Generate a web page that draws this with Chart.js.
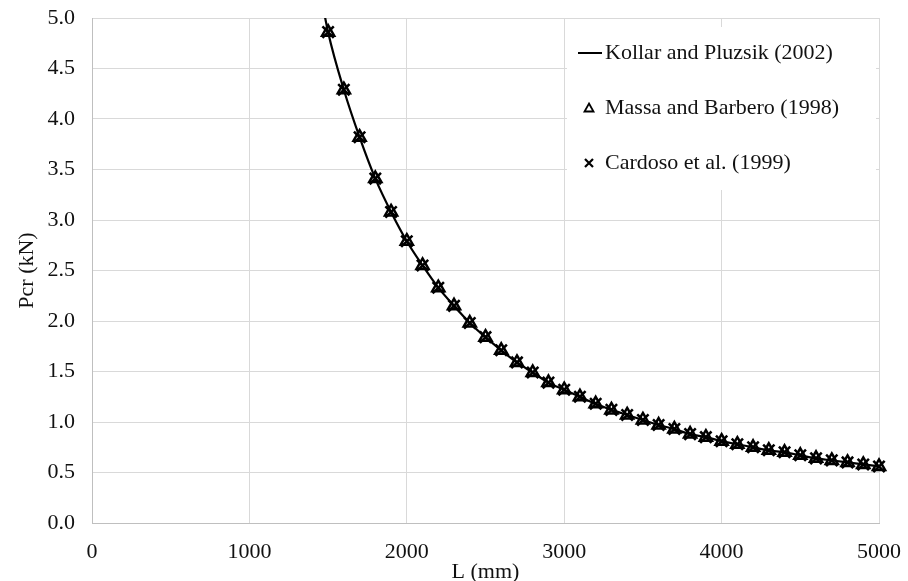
<!DOCTYPE html>
<html>
<head>
<meta charset="utf-8">
<title>Pcr vs L</title>
<script src="https://cdn.jsdelivr.net/npm/chart.js@4.4.1/dist/chart.umd.min.js"></script>
<style>
  html, body { margin: 0; padding: 0; background: #fff; }
  #wrap { width: 908px; height: 581px; }
</style>
</head>
<body>
<div id="wrap"><canvas id="chart" width="908" height="581"></canvas></div>
<script>
// lengths (mm) of the discrete results
const lengths = [1500, 1600, 1700, 1800, 1900, 2000, 2100, 2200, 2300, 2400,
  2500, 2600, 2700, 2800, 2900, 3000, 3100, 3200, 3300, 3400,
  3500, 3600, 3700, 3800, 3900, 4000, 4100, 4200, 4300, 4400,
  4500, 4600, 4700, 4800, 4900, 5000];

// Kollar and Pluzsik (2002) curve (starts above the top edge)
const kollarL = [1450].concat(lengths);
const kollarP = [5.26, 4.86, 4.29, 3.82, 3.41, 3.08, 2.79, 2.55, 2.33, 2.15, 1.98,
  1.84, 1.71, 1.59, 1.49, 1.39, 1.32, 1.25, 1.18, 1.12, 1.07,
  1.02, 0.97, 0.93, 0.88, 0.85, 0.81, 0.78, 0.75, 0.72, 0.70,
  0.67, 0.64, 0.62, 0.60, 0.58, 0.56];

// Massa and Barbero (1998)
const massaP = [4.86, 4.29, 3.82, 3.41, 3.08, 2.79, 2.55, 2.33, 2.15, 1.98,
  1.84, 1.71, 1.59, 1.49, 1.39, 1.32, 1.25, 1.18, 1.12, 1.07,
  1.02, 0.97, 0.93, 0.88, 0.85, 0.81, 0.78, 0.75, 0.72, 0.70,
  0.67, 0.64, 0.62, 0.60, 0.58, 0.56];

// Cardoso et al. (1999)
const cardosoP = [4.86, 4.29, 3.82, 3.41, 3.08, 2.79, 2.55, 2.33, 2.15, 1.98,
  1.84, 1.71, 1.59, 1.49, 1.39, 1.32, 1.25, 1.18, 1.12, 1.07,
  1.02, 0.97, 0.93, 0.88, 0.85, 0.81, 0.78, 0.75, 0.72, 0.70,
  0.67, 0.64, 0.62, 0.60, 0.58, 0.56];

const seriesNames = ["Kollar and Pluzsik (2002)", "Massa and Barbero (1998)", "Cardoso et al. (1999)"];
const xTicks = [0, 1000, 2000, 3000, 4000, 5000];
const yTicks = [0, 0.5, 1, 1.5, 2, 2.5, 3, 3.5, 4, 4.5, 5];

const FONT = "'Liberation Serif', 'Times New Roman', serif";
const TEXT = "#111";

// legend drawn as a box inside the plot, top right
const boxLegend = {
  id: "boxLegend",
  afterDraw(chart) {
    const ctx = chart.ctx,
      area = chart.chartArea,
      left = area.right - 312,
      top = area.top + 9,
      rows = [area.top + 35, area.top + 90, area.top + 145],
      mx = left + 22;
    ctx.save();
    ctx.fillStyle = "#fff";
    ctx.fillRect(left, top, area.right - 3 - left, 163);

    ctx.strokeStyle = "#000";
    ctx.lineWidth = 2;
    // line sample
    ctx.beginPath();
    ctx.moveTo(left + 11, rows[0]);
    ctx.lineTo(left + 35, rows[0]);
    ctx.stroke();
    // triangle
    ctx.lineWidth = 1.8;
    ctx.beginPath();
    ctx.moveTo(mx, rows[1] - 4.5);
    ctx.lineTo(mx + 4.5, rows[1] + 3.5);
    ctx.lineTo(mx - 4.5, rows[1] + 3.5);
    ctx.closePath();
    ctx.stroke();
    // cross
    ctx.lineWidth = 2.2;
    ctx.beginPath();
    ctx.moveTo(mx - 4, rows[2] - 4);
    ctx.lineTo(mx + 4, rows[2] + 4);
    ctx.moveTo(mx + 4, rows[2] - 4);
    ctx.lineTo(mx - 4, rows[2] + 4);
    ctx.stroke();

    ctx.fillStyle = TEXT;
    ctx.font = "22px " + FONT;
    ctx.textBaseline = "middle";
    ctx.textAlign = "left";
    seriesNames.forEach((name, i) => ctx.fillText(name, left + 38, rows[i]));
    ctx.restore();
  },
};

// drop the label overhang padding so layout.padding alone places the plot
const noOverhang = (s) => {
  s.paddingTop = 0;
  s.paddingBottom = 0;
  s.paddingLeft = 0;
  s.paddingRight = 0;
};

document.addEventListener("DOMContentLoaded", () => {
  const toPoints = (xs, ys) => xs.map((x, i) => ({ x: x, y: ys[i] })),
    chartData = {
      datasets: [
        {
          label: seriesNames[0],
          data: toPoints(kollarL, kollarP),
          showLine: true,
          borderColor: "#000",
          borderWidth: 2.2,
          pointRadius: 0,
          cubicInterpolationMode: "monotone",
          clip: 0,
          order: 3,
        },
        {
          label: seriesNames[1],
          data: toPoints(lengths, massaP),
          pointStyle: "triangle",
          pointRadius: 7,
          borderColor: "#000",
          backgroundColor: "rgba(0,0,0,0)",
          borderWidth: 2.5,
          clip: false,
          order: 2,
        },
        {
          label: seriesNames[2],
          data: toPoints(lengths, cardosoP),
          pointStyle: "crossRot",
          pointRadius: 8,
          borderColor: "#000",
          borderWidth: 2.5,
          clip: false,
          order: 1,
        },
      ],
    },
    chartConfig = {
      type: "scatter",
      data: chartData,
      plugins: [boxLegend],
      options: {
        responsive: false,
        animation: false,
        events: [],
        layout: { padding: { top: 18, right: 29, left: 0, bottom: 0 } },
        plugins: { legend: { display: false }, tooltip: { enabled: false } },
        scales: {
          x: {
            type: "linear",
            min: 0,
            max: 5000,
            afterBuildTicks: (s) => { s.ticks = xTicks.map((v) => ({ value: v })); },
            afterFit: (s) => { s.height = 58; noOverhang(s); },
            grid: { color: "#d9d9d9", drawTicks: false },
            border: { color: "#bfbfbf" },
            ticks: {
              padding: 16,
              color: TEXT,
              font: { family: FONT, size: 22 },
              callback: (v) => String(v),
            },
            title: {
              display: true,
              text: "L (mm)",
              color: TEXT,
              font: { family: FONT, size: 22, lineHeight: 0.8 },
              padding: 0,
            },
          },
          y: {
            type: "linear",
            min: 0,
            max: 5,
            afterBuildTicks: (s) => { s.ticks = yTicks.map((v) => ({ value: v })); },
            afterFit: (s) => { s.width = 92; noOverhang(s); },
            grid: { color: "#d9d9d9", drawTicks: false },
            border: { color: "#bfbfbf" },
            ticks: {
              padding: 17,
              color: TEXT,
              font: { family: FONT, size: 22 },
              callback: (v) => Number(v).toFixed(1),
            },
            title: {
              display: true,
              text: "Pcr (kN)",
              color: TEXT,
              font: { family: FONT, size: 22 },
              padding: { top: 14, bottom: 0 },
            },
          },
        },
      },
    },
    ctx = document.getElementById("chart").getContext("2d");
  new Chart(ctx, chartConfig);
});
</script>
</body>
</html>
